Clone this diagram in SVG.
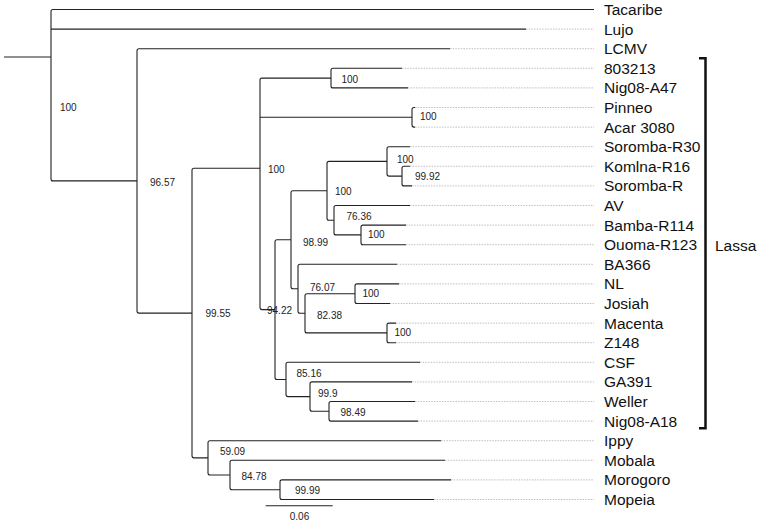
<svg xmlns="http://www.w3.org/2000/svg" width="760" height="523" viewBox="0 0 760 523">
<style>
.br{fill:none;stroke:#222;stroke-width:1.1}
.dt{fill:none;stroke:#b0b0b0;stroke-width:0.8;stroke-dasharray:1.5 1.2}
.tip{font-family:"Liberation Sans",Arial,sans-serif;font-size:15.5px;fill:#111}
.bs{font-family:"Liberation Sans",Arial,sans-serif;font-size:10px;fill:#222}
.brk{fill:none;stroke:#111;stroke-width:2.5}
</style>
<rect width="760" height="523" fill="#fff"/>
<g id="connectors">
<g id="branches" class="br">
<path d="M4 57 H51"/>
<path d="M594 9.5 H53 Q51 9.5 51 11.5 V178.9 Q51 180.9 53 180.9 H137"/>
<path d="M51 29.1 H526"/>
<path d="M450 48.7 H139 Q137 48.7 137 50.7 V311.1 Q137 313.1 139 313.1 H192"/>
<path d="M260 168.3 H194 Q192 168.3 192 170.3 V455.85 Q192 457.85 194 457.85 H208"/>
<path d="M331 78.1 H262 Q260 78.1 260 80.1 V307.6 Q260 309.6 262 309.6 H275"/>
<path d="M260 117.3 H412"/>
<path d="M402 68.3 H333 Q331 68.3 331 70.3 V85.9 Q331 87.9 333 87.9 H408"/>
<path d="M415 107.5 H414 Q412 107.5 412 109.5 V125.1 Q412 127.1 414 127.1 H415"/>
<path d="M291 239.8 H277 Q275 239.8 275 241.8 V377.45 Q275 379.45 277 379.45 H286"/>
<path d="M327 190.8 H293 Q291 190.8 291 192.8 V286.8 Q291 288.8 293 288.8 H298"/>
<path d="M387 161.4 H329 Q327 161.4 327 163.4 V218.2 Q327 220.2 329 220.2 H334"/>
<path d="M410 146.7 H389 Q387 146.7 387 148.7 V174.1 Q387 176.1 389 176.1 H402"/>
<path d="M410 166.3 H404 Q402 166.3 402 168.3 V183.9 Q402 185.9 404 185.9 H412"/>
<path d="M410 205.5 H336 Q334 205.5 334 207.5 V232.9 Q334 234.9 336 234.9 H361"/>
<path d="M406 225.1 H363 Q361 225.1 361 227.1 V242.7 Q361 244.7 363 244.7 H406"/>
<path d="M397 264.3 H300 Q298 264.3 298 266.3 V311.3 Q298 313.3 300 313.3 H305"/>
<path d="M355 293.7 H307 Q305 293.7 305 295.7 V330.9 Q305 332.9 307 332.9 H387"/>
<path d="M399 283.9 H357 Q355 283.9 355 285.9 V301.5 Q355 303.5 357 303.5 H390"/>
<path d="M396 323.1 H389 Q387 323.1 387 325.1 V340.7 Q387 342.7 389 342.7 H396"/>
<path d="M420 362.3 H288 Q286 362.3 286 364.3 V394.6 Q286 396.6 288 396.6 H310"/>
<path d="M412 381.9 H312 Q310 381.9 310 383.9 V409.3 Q310 411.3 312 411.3 H329"/>
<path d="M415 401.5 H331 Q329 401.5 329 403.5 V419.1 Q329 421.1 331 421.1 H418"/>
<path d="M441 440.7 H210 Q208 440.7 208 442.7 V473 Q208 475 210 475 H230"/>
<path d="M445 460.3 H232 Q230 460.3 230 462.3 V487.7 Q230 489.7 232 489.7 H280"/>
<path d="M451 479.9 H282 Q280 479.9 280 481.9 V497.5 Q280 499.5 282 499.5 H434"/>
</g>
<g id="leaders" class="dt">
<path d="M526 29.1 H594"/>
<path d="M450 48.7 H594"/>
<path d="M402 68.3 H594"/>
<path d="M408 87.9 H594"/>
<path d="M415 107.5 H594"/>
<path d="M415 127.1 H594"/>
<path d="M410 146.7 H594"/>
<path d="M410 166.3 H594"/>
<path d="M412 185.9 H594"/>
<path d="M410 205.5 H594"/>
<path d="M406 225.1 H594"/>
<path d="M406 244.7 H594"/>
<path d="M397 264.3 H594"/>
<path d="M399 283.9 H594"/>
<path d="M390 303.5 H594"/>
<path d="M396 323.1 H594"/>
<path d="M396 342.7 H594"/>
<path d="M420 362.3 H594"/>
<path d="M412 381.9 H594"/>
<path d="M415 401.5 H594"/>
<path d="M418 421.1 H594"/>
<path d="M441 440.7 H594"/>
<path d="M445 460.3 H594"/>
<path d="M451 479.9 H594"/>
<path d="M434 499.5 H594"/>
</g>
</g>
<g id="support" class="bs">
<text x="60" y="110.6">100</text>
<text x="150" y="185.6">96.57</text>
<text x="205.5" y="316.9">99.55</text>
<text x="268" y="172.9">100</text>
<text x="341.5" y="82.6">100</text>
<text x="420" y="120.4">100</text>
<text x="335" y="194.6">100</text>
<text x="397" y="162.6">100</text>
<text x="415" y="180.3">99.92</text>
<text x="346.5" y="220.3">76.36</text>
<text x="368" y="238.4">100</text>
<text x="303" y="246.4">98.99</text>
<text x="310" y="290.9">76.07</text>
<text x="317" y="318.6">82.38</text>
<text x="362.5" y="296.9">100</text>
<text x="394.5" y="336.4">100</text>
<text x="267" y="314.3">94.22</text>
<text x="296.5" y="376.9">85.16</text>
<text x="318" y="396.6">99.9</text>
<text x="340.5" y="415.6">98.49</text>
<text x="220" y="455.3">59.09</text>
<text x="241.5" y="479.6">84.78</text>
<text x="295" y="493.6">99.99</text>
</g>
<g id="tips" class="tip">
<g id="t-tacaribe"><text x="604" y="15">Tacaribe</text></g>
<g id="t-lujo"><text x="604" y="34.6">Lujo</text></g>
<g id="t-lcmv"><text x="604" y="54.2">LCMV</text></g>
<g id="t-803213"><text x="604" y="73.8">803213</text></g>
<g id="t-nig08a47"><text x="604" y="93.4">Nig08-A47</text></g>
<g id="t-pinneo"><text x="604" y="113">Pinneo</text></g>
<g id="t-acar"><text x="604" y="132.6">Acar 3080</text></g>
<g id="t-sorombar30"><text x="604" y="152.2">Soromba-R30</text></g>
<g id="t-komlna"><text x="604" y="171.8">Komlna-R16</text></g>
<g id="t-sorombar"><text x="604" y="191.4">Soromba-R</text></g>
<g id="t-av"><text x="604" y="211">AV</text></g>
<g id="t-bamba"><text x="604" y="230.6">Bamba-R114</text></g>
<g id="t-ouoma"><text x="604" y="250.2">Ouoma-R123</text></g>
<g id="t-ba366"><text x="604" y="269.8">BA366</text></g>
<g id="t-nl"><text x="604" y="289.4">NL</text></g>
<g id="t-josiah"><text x="604" y="309">Josiah</text></g>
<g id="t-macenta"><text x="604" y="328.6">Macenta</text></g>
<g id="t-z148"><text x="604" y="348.2">Z148</text></g>
<g id="t-csf"><text x="604" y="367.8">CSF</text></g>
<g id="t-ga391"><text x="604" y="387.4">GA391</text></g>
<g id="t-weller"><text x="604" y="407">Weller</text></g>
<g id="t-nig08a18"><text x="604" y="426.6">Nig08-A18</text></g>
<g id="t-ippy"><text x="604" y="446.2">Ippy</text></g>
<g id="t-mobala"><text x="604" y="465.8">Mobala</text></g>
<g id="t-morogoro"><text x="604" y="485.4">Morogoro</text></g>
<g id="t-mopeia"><text x="604" y="505">Mopeia</text></g>
</g>
<g id="lassa">
<path class="brk" d="M699 58.3 H705.5 V428.3 H699"/>
<text class="tip" x="715" y="250.5">Lassa</text>
</g>
<g id="scale">
<path class="br" d="M265.7 505.7 H332.7"/>
<text class="bs" x="299.5" y="519.5" text-anchor="middle">0.06</text>
</g>
</svg>
